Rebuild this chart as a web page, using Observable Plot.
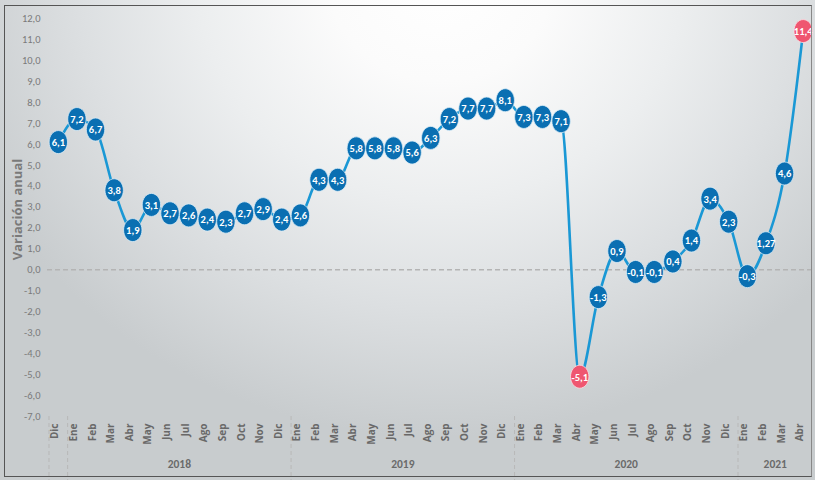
<!DOCTYPE html>
<html>
<head>
<meta charset="utf-8">
<script src="https://cdn.jsdelivr.net/npm/d3@7"></script>
<script src="https://cdn.jsdelivr.net/npm/@observablehq/plot@0.6"></script>
<style>
  html, body { margin: 0; padding: 0; background: #fff; }
  #wrap {
    position: relative; width: 815px; height: 480px; overflow: hidden;
    background: radial-gradient(ellipse 62% 95% at 54% -4%, #ffffff 0%, #fbfbfb 22%, #eceeef 48%, #dcdfe1 72%, #c8ccce 100%);
  }
  #border {
    position: absolute; left: 4px; top: 5px; width: 806px; height: 470px;
    border: 1.5px solid #555; border-right-color: #888; pointer-events: none;
  }
  #chart { position: absolute; left: 0; top: 0; }
</style>
</head>
<body>
<div id="wrap"><div id="chart"></div><div id="border"></div></div>
<script>
const months = ["Dic",
  "Ene","Feb","Mar","Abr","May","Jun","Jul","Ago","Sep","Oct","Nov","Dic",
  "Ene","Feb","Mar","Abr","May","Jun","Jul","Ago","Sep","Oct","Nov","Dic",
  "Ene","Feb","Mar","Abr","May","Jun","Jul","Ago","Sep","Oct","Nov","Dic",
  "Ene","Feb","Mar","Abr"];
const values = [6.1,
  7.2,6.7,3.8,1.9,3.1,2.7,2.6,2.4,2.3,2.7,2.9,2.4,
  2.6,4.3,4.3,5.8,5.8,5.8,5.6,6.3,7.2,7.7,7.7,8.1,
  7.3,7.3,7.1,-5.1,-1.3,0.9,-0.1,-0.1,0.4,1.4,3.4,2.3,
  -0.3,1.27,4.6,11.4];
const years = ["2018","2019","2020","2021"];
const yearMid = [6.5, 18.5, 30.5, 38.5];
const separators = [-0.5, 0.5, 12.5, 24.5, 36.5];
const yTicks = d3.range(-7, 13);

const data = months.map((m, i) => ({i, m, v: values[i]}));
const vmin = d3.min(values), vmax = d3.max(values);
const isRed = d => d.v === vmin || d.v === vmax;
const fmt = v => String(v).replace(".", ",");

const ellipse = {
  draw(ctx, size) {
    const r = Math.sqrt(size / Math.PI);
    const rx = r * 0.8, ry = r, k = 0.5523;
    ctx.moveTo(0, -ry);
    ctx.bezierCurveTo(k * rx, -ry, rx, -k * ry, rx, 0);
    ctx.bezierCurveTo(rx, k * ry, k * rx, ry, 0, ry);
    ctx.bezierCurveTo(-k * rx, ry, -rx, k * ry, -rx, 0);
    ctx.bezierCurveTo(-rx, -k * ry, -k * rx, -ry, 0, -ry);
    ctx.closePath();
  }
};

const font = "Carlito, 'Liberation Sans Narrow', 'Open Sans', sans-serif";
const wide = "'Open Sans', 'Noto Sans', sans-serif";

const chart = Plot.plot({
  width: 815,
  height: 480,
  marginLeft: 47,
  marginRight: 3,
  marginTop: 18,
  marginBottom: 64,
  style: {background: "transparent", fontFamily: font, overflow: "visible"},
  x: {type: "linear", domain: [-0.58, 40.5], axis: null},
  y: {
    domain: [-7, 12],
    ticks: yTicks,
    tickFormat: d => d.toFixed(1).replace(".", ","),
    tickSize: 0,
    tickPadding: 7,
    label: null
  },
  marks: [
    Plot.ruleY([0], {stroke: "#b4b4b4", strokeWidth: 1.5, strokeDasharray: "5,3"}),
    Plot.ruleX(separators, {x: d => d, y1: -7, y2: -10.2, stroke: "#b8b8b8", strokeWidth: 1, strokeDasharray: "4,3"}),
    Plot.line(data, {x: "i", y: "v", stroke: "#1a98d5", strokeWidth: 2.6, curve: "monotone-x"}),
    Plot.dot(data, {filter: d => !isRed(d), x: "i", y: "v", r: 11.5, symbol: ellipse, fill: "#0a6fb2", stroke: "#d9ecf6", strokeWidth: 0.8}),
    Plot.dot(data, {filter: isRed, x: "i", y: "v", r: 11.5, symbol: ellipse, fill: "#ef5670", stroke: "#fbe0e5", strokeWidth: 0.8}),
    Plot.text(data, {x: "i", y: "v", text: d => fmt(d.v), fill: "white", fontWeight: "bold", fontSize: 10.5, dy: 0.5}),
    Plot.text(data, {x: "i", text: "m", frameAnchor: "bottom", dy: 7, rotate: -90, textAnchor: "end", fill: "#686868", fontSize: 10, fontWeight: "bold", fontFamily: wide}),
    Plot.text(years, {x: (d, k) => yearMid[k], text: d => d, frameAnchor: "bottom", dy: 51, fill: "#6a6a6a", fontSize: 11.5, fontWeight: "bold"}),
    Plot.text(["Variación anual"], {frameAnchor: "left", dx: -30, dy: -8, rotate: -90, textAnchor: "middle", text: d => d, fill: "#7a7a7a", fontSize: 13, fontWeight: "bold", fontFamily: wide})
  ]
});
const ya = chart.querySelector("g[aria-label='y-axis tick label']") || chart.querySelector("g[aria-label='y-axis']");
if (ya) { ya.setAttribute("font-size", "10.5"); ya.setAttribute("fill", "#7a7a7a"); }
document.getElementById("chart").appendChild(chart);
</script>
</body>
</html>
